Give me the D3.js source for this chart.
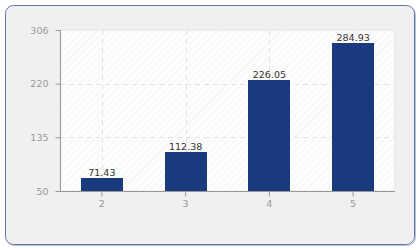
<html>
	<head>
		<meta charset="utf-8">
		<script src="https://d3js.org/d3.v7.min.js"></script>
	</head>
	<body style="margin:0;background:#fff">
		<svg id="svg" width="420" height="250"></svg>
	<script>
'use strict';

const categories = ['2', '3', '4', '5'];
const values = [71.43, 112.38, 226.05, 284.93];
const y_ticks = [50, 135.33, 220.67, 306];
const y_tick_labels = ['50', '135', '220', '306'];

const width = 420;
const height = 250;
const margin = {left: 60, right: 25, top: 30, bottom: 59};

const svg = d3.select('#svg');

// outer panel
svg.append('rect')
	.attr('x', 6.5).attr('y', 6.5)
	.attr('width', 409).attr('height', 239)
	.attr('rx', 8)
	.attr('fill', 'none')
	.attr('stroke', '#b8c2dc');
svg.append('rect')
	.attr('x', 5.5).attr('y', 5.5)
	.attr('width', 409).attr('height', 239)
	.attr('rx', 8)
	.attr('fill', '#f0f0f0')
	.attr('stroke', '#5f74ae');

const x = d3.scaleBand()
	.domain(categories)
	.range([margin.left, width - margin.right])
	.paddingInner(0.5)
	.paddingOuter(0.25);

const y = d3.scaleLinear()
	.domain([50, 306])
	.range([height - margin.bottom, margin.top]);

const defs = svg.append('defs');
const pat = defs.append('pattern')
	.attr('id', 'hatch')
	.attr('patternUnits', 'userSpaceOnUse')
	.attr('width', 5).attr('height', 5)
	.attr('patternTransform', 'rotate(45)');
pat.append('rect').attr('width', 5).attr('height', 5).attr('fill', '#fdfdfd');
pat.append('line')
	.attr('x1', 0).attr('y1', 0).attr('x2', 0).attr('y2', 5)
	.attr('stroke', '#eeeeee').attr('stroke-width', 1.2);

const x0 = margin.left;
const x1 = width - margin.right;
const y0 = height - margin.bottom;
const y1 = margin.top;

svg.append('rect')
	.attr('x', x0).attr('y', y1)
	.attr('width', x1 - x0).attr('height', y0 - y1)
	.attr('fill', 'url(#hatch)')
	.attr('stroke', '#e4e4e4');

// grid
svg.append('g')
	.selectAll('line')
	.data(y_ticks.slice(1, 3))
	.join('line')
	.attr('x1', x0).attr('x2', x1)
	.attr('y1', d => Math.round(y(d)) + 0.5)
	.attr('y2', d => Math.round(y(d)) + 0.5)
	.attr('stroke', '#e2e2e2')
	.attr('stroke-dasharray', '5,4');

svg.append('g')
	.selectAll('line')
	.data(categories)
	.join('line')
	.attr('x1', d => Math.round(x(d) + x.bandwidth() / 2) + 0.5)
	.attr('x2', d => Math.round(x(d) + x.bandwidth() / 2) + 0.5)
	.attr('y1', y1).attr('y2', y0)
	.attr('stroke', '#e2e2e2')
	.attr('stroke-dasharray', '5,4');

// bars
svg.append('g')
	.selectAll('rect')
	.data(values)
	.join('rect')
	.attr('x', (d, i) => Math.round(x(categories[i])))
	.attr('y', d => Math.round(y(d)))
	.attr('width', Math.round(x.bandwidth()))
	.attr('height', d => y0 - Math.round(y(d)))
	.attr('fill', '#1a3a80');

svg.append('g')
	.selectAll('text')
	.data(values)
	.join('text')
	.attr('x', (d, i) => x(categories[i]) + x.bandwidth() / 2)
	.attr('y', d => y(d) - 2)
	.attr('text-anchor', 'middle')
	.attr('font-family', 'DejaVu Sans')
	.attr('font-size', 9.5)
	.attr('fill', '#333')
	.text(d => d.toFixed(2));

// axes
const yAxis = d3.axisLeft(y)
	.tickValues(y_ticks)
	.tickFormat((d, i) => y_tick_labels[i])
	.tickSize(5)
	.tickPadding(7);
const gy = svg.append('g')
	.attr('transform', `translate(${x0 + 0.5},0)`)
	.call(yAxis);

const xAxis = d3.axisBottom(x)
	.tickSize(5)
	.tickPadding(4);
const gx = svg.append('g')
	.attr('transform', `translate(0,${y0 + 0.5})`)
	.call(xAxis);

for (const g of [gx, gy]) {
	g.select('.domain').attr('stroke', '#999');
	g.selectAll('.tick line').attr('stroke', '#999');
	g.selectAll('.tick text')
		.attr('fill', '#999')
		.attr('font-family', 'DejaVu Sans')
		.attr('font-size', 9.5);
}
gy.select('.domain').attr('d', `M0,${y0}V${y1}`);
gx.select('.domain').attr('d', `M${x0},0H${x1}`);

	</script>
	</body>
</html>
